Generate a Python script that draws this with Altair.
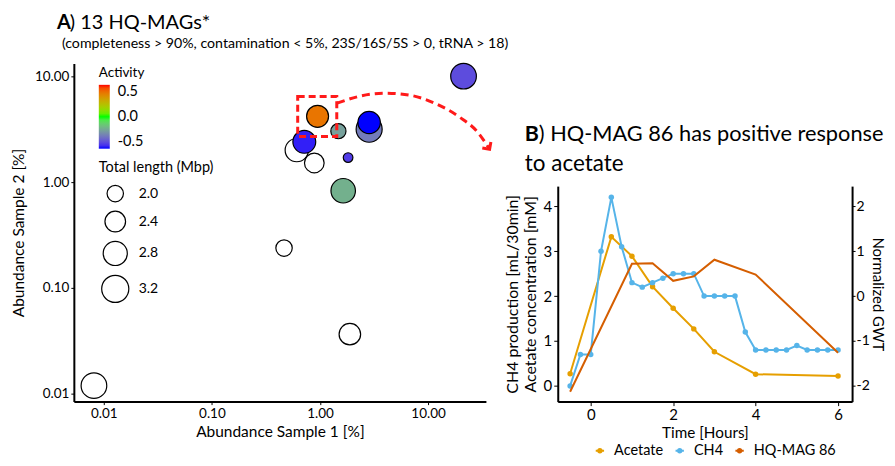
import altair as alt
import pandas as pd

FONT = "Lato"

# ---------------- Panel A data ----------------
mag_abund1 = [0.0081, 0.465, 1.89, 0.61, 0.886, 21.3, 0.95, 1.48, 2.85, 2.85, 0.716, 1.82, 1.64]
mag_abund2 = [0.0119, 0.238, 0.0365, 2.01, 1.52, 10.07, 4.2, 3.04, 3.17, 3.67, 2.41, 1.71, 0.83]
mag_length = [3.0, 2.0, 2.5, 2.7, 2.3, 3.0, 2.55, 1.9, 3.05, 2.6, 2.65, 1.55, 2.85]
mag_activity = [None, None, None, None, None, -0.4, 0.38, -0.215, -0.3, -0.5, -0.475, -0.43, -0.18]

log_ticks = [0.01, 0.1, 1, 10]
size_legend_values = [2.0, 2.4, 2.8, 3.2]
activity_legend_values = [-0.5, 0.0, 0.5]
activity_colors = ["#0000ff", "#00ff00", "#ff0000"]

# highlight box and curved arrow (data coordinates)
box_x = [0.622, 1.43]
box_y = [2.71, 6.47]
arc_x = [1.44, 2.34, 3.98, 6.78, 11.5, 19.6, 28.8, 37.1]
arc_y = [5.59, 6.51, 6.95, 6.65, 5.59, 4.12, 2.97, 2.05]

# ---------------- Panel B data ----------------
time_ch4 = [-0.5, -0.25, 0, 0.25, 0.5, 0.75, 1.0, 1.25, 1.5, 1.75, 2.0, 2.25, 2.5,
            2.75, 3.0, 3.25, 3.5, 3.75, 4.0, 4.25, 4.5, 4.75, 5.0, 5.25, 5.5, 5.75, 6.0]
ch4 = [0.0, 0.7, 0.7, 3.0, 4.2, 3.1, 2.3, 2.2, 2.3, 2.4, 2.5, 2.5, 2.5,
       2.0, 2.0, 2.0, 2.0, 1.2, 0.8, 0.8, 0.8, 0.8, 0.9, 0.8, 0.8, 0.8, 0.8]
time_acetate = [-0.5, 0.5, 1.0, 1.5, 2.0, 2.5, 3.0, 4.0, 6.0]
acetate = [0.27, 3.32, 2.89, 2.21, 1.73, 1.27, 0.76, 0.26, 0.22]
time_gwt = [-0.5, 1.0, 1.5, 2.0, 2.5, 3.0, 4.0, 6.0]
gwt = [-2.13, 0.72, 0.73, 0.34, 0.44, 0.81, 0.48, -1.26]

series_names = ["Acetate", "CH4", "HQ-MAG 86"]
series_colors = ["#E69F00", "#56B4E9", "#D55E00"]
time_ticks = [0, 2, 4, 6]

HYPHEN_INT = "datum.value < 0 ? '-' + abs(datum.value) : '' + datum.value"
HYPHEN_1F = ("datum.value < 0 ? '-' + format(abs(datum.value), '.1f') "
             ": format(datum.value, '.1f')")

# ---------------- Panel A ----------------
mags = pd.DataFrame({"a1": mag_abund1, "a2": mag_abund2,
                     "length": mag_length, "activity": mag_activity})
open_df = mags[mags["activity"].isna()][["a1", "a2", "length"]]
col_df = mags[mags["activity"].notna()]

xA = alt.X("a1:Q", scale=alt.Scale(type="log", domain=[0.00528, 34.3], nice=False),
           axis=alt.Axis(values=log_ticks, format=".2f", title="Abundance Sample 1 [%]",
                         tickSize=3, labelFontSize=13.5, titleFontSize=15.5, labelPadding=2,
                         titlePadding=4))
yA = alt.Y("a2:Q", scale=alt.Scale(type="log", domain=[0.0084, 13.3], nice=False),
           axis=alt.Axis(values=log_ticks, format=".2f", title="Abundance Sample 2 [%]",
                         tickSize=3, labelFontSize=13.5, titleFontSize=15.5, labelPadding=2,
                         titlePadding=8))
size_scale = alt.Scale(domain=[2.0, 3.2], range=[270, 740])
sizeA_legend = alt.Size("length:Q", scale=size_scale,
                        legend=alt.Legend(title="Total length (Mbp)", values=size_legend_values,
                                          format=".1f", orient="none", legendX=25, legendY=98,
                                          titleFontSize=14.5, labelFontSize=14, labelOffset=9,
                                          rowPadding=4, titlePadding=9, symbolType="circle",
                                          symbolStrokeWidth=1.2, symbolOpacity=1,
                                          symbolOffset=2))
sizeA_nolegend = alt.Size("length:Q", scale=size_scale, legend=None)

# white-filled open circles (MAGs without activity value)
open_layer = alt.Chart(open_df).mark_circle(
    fill="white", stroke="black", strokeWidth=1.2, opacity=1
).encode(x=xA, y=yA, size=sizeA_nolegend)

# invisible layer that only provides the size legend
legend_layer = alt.Chart(open_df).mark_point(
    filled=False, color="black", strokeWidth=1.2, opacity=0, shape="circle"
).encode(x=xA, y=yA, size=sizeA_legend)

col_layer = alt.Chart(col_df).mark_circle(
    stroke="black", strokeWidth=1.2, opacity=1
).encode(
    x=xA, y=yA, size=sizeA_nolegend,
    fill=alt.Fill("activity:Q",
                  scale=alt.Scale(domain=activity_legend_values, range=activity_colors,
                                  interpolate="lab"),
                  legend=alt.Legend(title="Activity", values=activity_legend_values,
                                    labelExpr=HYPHEN_1F, orient="none", legendX=25, legendY=3,
                                    direction="vertical", gradientLength=64,
                                    gradientThickness=11, labelOverlap=False,
                                    titleFontSize=13.5, labelFontSize=14.5, labelOffset=8,
                                    titlePadding=5, gradientStrokeWidth=0))
)

box_df = pd.DataFrame({"a1": [box_x[0]], "a1_end": [box_x[1]],
                       "a2": [box_y[0]], "a2_end": [box_y[1]]})
box_layer = alt.Chart(box_df).mark_rect(
    fill="transparent", stroke="#ff1a1a", strokeWidth=3, strokeDash=[7, 4]
).encode(x=xA, x2="a1_end:Q", y=yA, y2="a2_end:Q")

arc_df = pd.DataFrame({"a1": arc_x, "a2": arc_y, "i": list(range(len(arc_x)))})
arc_layer = alt.Chart(arc_df).mark_line(
    stroke="#ff1a1a", strokeWidth=3, strokeDash=[8, 5], interpolate="monotone"
).encode(x=xA, y=yA, order="i:Q")

tip_df = pd.DataFrame({"a1": [arc_x[-1]], "a2": [arc_y[-1]]})
tip_layer = alt.Chart(tip_df).mark_point(
    shape="M-1,-1L0,0L1,-1", size=110, stroke="#ff1a1a", strokeWidth=3,
    filled=False, opacity=1, angle=325
).encode(x=xA, y=yA)

titleA_bold = alt.Chart(pd.DataFrame({"t": ["A"]})).mark_text(
    font=FONT, fontSize=20, fontWeight="bold", align="left", baseline="alphabetic"
).encode(x=alt.value(-17), y=alt.value(-34), text="t:N")
titleA_rest = alt.Chart(pd.DataFrame({"t": [") 13 HQ-MAGs*"]})).mark_text(
    font=FONT, fontSize=20, align="left", baseline="alphabetic"
).encode(x=alt.value(-4), y=alt.value(-34), text="t:N")
subA = alt.Chart(pd.DataFrame(
    {"t": ["(completeness > 90%, contamination < 5%, 23S/16S/5S > 0, tRNA > 18)"]}
)).mark_text(
    font=FONT, fontSize=14.2, align="left", baseline="alphabetic"
).encode(x=alt.value(-12), y=alt.value(-15), text="t:N")

panelA = alt.layer(open_layer, legend_layer, col_layer, box_layer, arc_layer, tip_layer,
                   titleA_bold, titleA_rest, subA).resolve_legend(
    size="independent").properties(width=413, height=339)

# ---------------- Panel B ----------------
left_df = pd.concat([
    pd.DataFrame({"time": time_acetate, "value": acetate, "series": "Acetate"}),
    pd.DataFrame({"time": time_ch4, "value": ch4, "series": "CH4"}),
])
right_df = pd.DataFrame({"time": time_gwt, "gwt": gwt, "series": "HQ-MAG 86"})

xB = alt.X("time:Q", scale=alt.Scale(domain=[-0.8, 6.34], nice=False),
           axis=alt.Axis(values=time_ticks, title="Time [Hours]", tickSize=4,
                         labelFontSize=15, titleFontSize=15.3, titlePadding=3))
colorB = alt.Color("series:N", scale=alt.Scale(domain=series_names, range=series_colors),
                   legend=alt.Legend(title=None, orient="none", direction="horizontal",
                                     legendX=35, legendY=381, labelFontSize=14.5,
                                     gridAlign="none",
                                     symbolType="M-1,0H1M0.4,0A0.4,0.4,0,1,1,-0.4,0A0.4,0.4,0,1,1,0.4,0Z",
                                     symbolSize=70, symbolStrokeWidth=2, columnPadding=8,
                                     labelOffset=7))

left_layer = alt.Chart(left_df).mark_line(
    strokeWidth=2, point=alt.OverlayMarkDef(size=30, filled=True, opacity=1)
).encode(
    x=xB,
    y=alt.Y("value:Q", scale=alt.Scale(domain=[-0.35, 4.45], nice=False),
            axis=alt.Axis(orient="left", values=[0, 1, 2, 3, 4], tickSize=4,
                          labelFontSize=15, titleFontSize=16, titlePadding=5,
                          title=["CH4 production [mL/30min]", "Acetate concentration [mM]"])),
    color=colorB,
)
right_layer = alt.Chart(right_df).mark_line(strokeWidth=2).encode(
    x=xB,
    y=alt.Y("gwt:Q", scale=alt.Scale(domain=[-2.35, 2.45], nice=False),
            axis=alt.Axis(orient="right", values=[-2, -1, 0, 1, 2], tickSize=3,
                          labelExpr=HYPHEN_INT,
                          labelFontSize=14, titleFontSize=15, titlePadding=0,
                          labelPadding=1, title="Normalized GWT")),
    color=colorB,
)
panelB = alt.layer(left_layer, right_layer).resolve_scale(y="independent").properties(
    width=295, height=216)

titleB_bold = alt.Chart(pd.DataFrame({"t": ["B"]})).mark_text(
    font=FONT, fontSize=21.5, fontWeight="bold", align="left", baseline="alphabetic"
).encode(x=alt.value(-33), y=alt.value(78), text="t:N")
titleB_l1 = alt.Chart(pd.DataFrame({"t": [") HQ-MAG 86 has positive response"]})).mark_text(
    font=FONT, fontSize=21.8, align="left", baseline="alphabetic"
).encode(x=alt.value(-19), y=alt.value(78), text="t:N")
titleB_l2 = alt.Chart(pd.DataFrame({"t": ["to acetate"]})).mark_text(
    font=FONT, fontSize=22.5, align="left", baseline="alphabetic"
).encode(x=alt.value(-33), y=alt.value(108), text="t:N")
spacerB = alt.layer(titleB_bold, titleB_l1, titleB_l2).properties(width=295, height=123)

colB = alt.vconcat(spacerB, panelB, spacing=0)

chart = alt.hconcat(panelA, colB, spacing=72, bounds="flush").resolve_scale(
    color="independent", size="independent", fill="independent"
).properties(padding={"left": 3, "top": 5, "right": 2, "bottom": 0}).configure(
    font=FONT
).configure_view(strokeWidth=0).configure_axis(
    grid=False, domainColor="black", domainWidth=2, tickColor="black", tickWidth=1,
    labelColor="black", titleColor="black", titleFontWeight="normal", labelFont=FONT,
    titleFont=FONT
).configure_legend(
    labelColor="black", titleColor="black", titleFontWeight="normal", labelFont=FONT,
    titleFont=FONT
)

chart.save("out.html", embed_options={"renderer": "svg", "actions": False})
